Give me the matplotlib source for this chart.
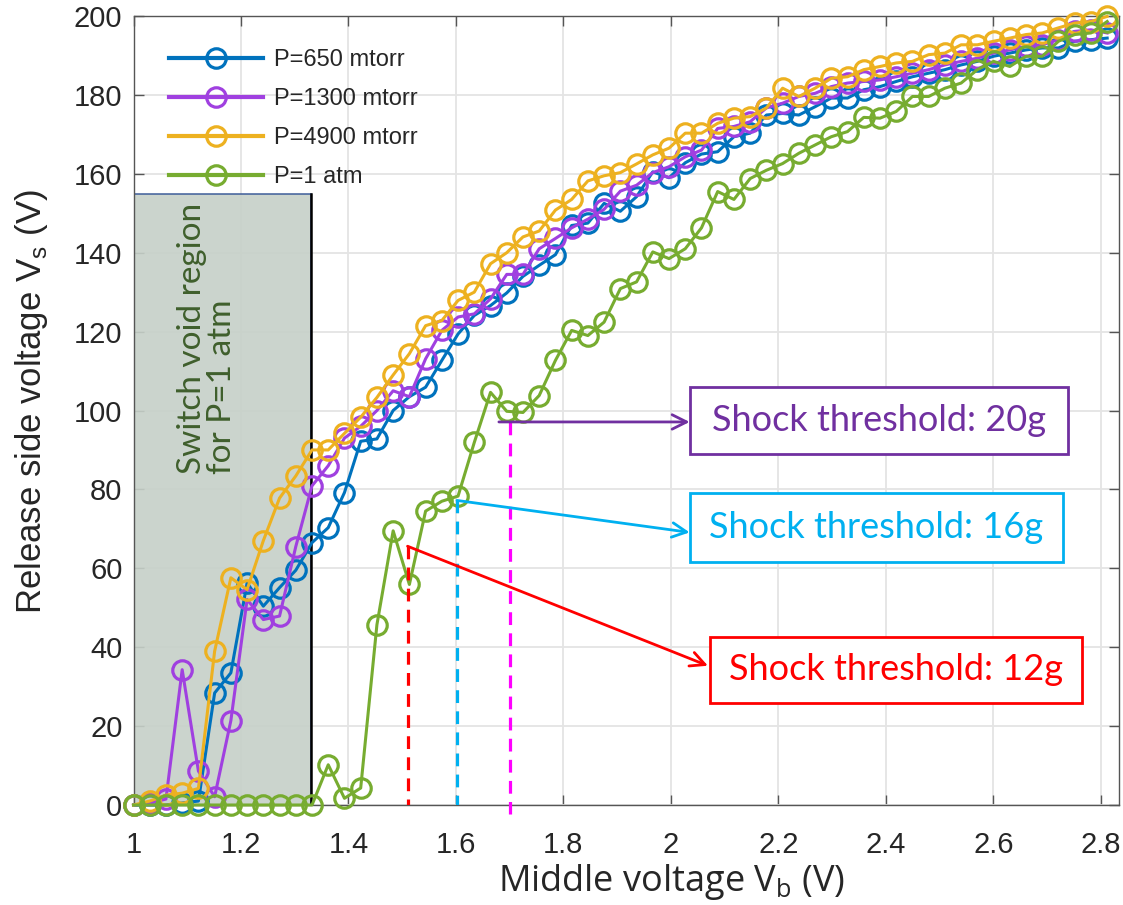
import numpy as np
import matplotlib
matplotlib.use("Agg")
import matplotlib.pyplot as plt
from matplotlib.patches import Rectangle
from matplotlib.ticker import FuncFormatter

# ---- data -------------------------------------------------------------
# middle voltage sweep (V), 61 samples
vb = 1.0 + 0.0302 * np.arange(61)

vs_650 = [0, 0, 0, 0.5, 1, 28.4, 33.5, 56.3, 50.4, 55.1,
          59.5, 66.5, 70.3, 79.2, 92.2, 92.8, 100.0, 103.5, 105.9, 112.7,
          119.4, 124.1, 126.6, 129.8, 134.0, 136.8, 139.5, 146.9, 147.5, 152.5,
          150.5, 154.2, 160.5, 159.0, 162.8, 165.0, 165.6, 169.4, 170.3, 174.9,
          175.3, 174.9, 177.0, 179.2, 179.2, 181.3, 182.1, 183.4, 184.6, 185.5,
          186.4, 187.6, 188.5, 189.8, 190.6, 191.4, 191.9, 191.9, 193.6, 194.0,
          194.4]

vs_1300 = [0, 0.5, 1.5, 34.3, 8.6, 2.1, 21.4, 52.1, 47.0, 47.9,
           65.5, 80.9, 86.0, 93.0, 96.0, 100.0, 105.0, 103.5, 113.1, 120.3,
           123.7, 124.5, 128.3, 134.5, 134.5, 141.0, 143.6, 146.3, 148.5, 151.0,
           155.6, 157.1, 160.3, 161.8, 164.3, 166.0, 171.5, 172.0, 173.2, 176.7,
           177.9, 179.6, 180.4, 182.1, 183.0, 183.4, 183.8, 184.6, 185.5, 186.4,
           187.6, 188.5, 189.3, 190.6, 191.4, 192.3, 192.7, 194.0, 196.1, 196.5,
           195.7]

vs_4900 = [0, 1, 2.5, 3.0, 4.2, 39.0, 57.6, 54.6, 67.0, 77.8,
           83.4, 90.0, 90.0, 94.2, 98.3, 103.3, 109.0, 114.4, 121.5, 122.8,
           127.9, 130.0, 137.2, 140.0, 144.0, 145.5, 150.8, 153.5, 158.2, 159.5,
           160.3, 162.5, 164.8, 166.5, 170.3, 170.3, 172.8, 174.1, 174.5, 176.7,
           181.7, 179.6, 181.7, 184.2, 184.6, 186.4, 187.2, 188.1, 188.5, 190.2,
           190.6, 192.7, 192.7, 193.6, 194.4, 195.3, 195.7, 197.0, 198.2, 198.6,
           199.9]

vs_1atm = [0, 0, 0, 0, 0, 0, 0, 0, 0, 0,
           0, 0, 10.2, 1.7, 4.3, 45.7, 69.5, 55.9, 74.5, 77.0,
           78.3, 91.9, 104.6, 99.8, 99.5, 103.8, 112.7, 120.3, 119.0, 122.4,
           130.9, 132.6, 140.2, 138.5, 141.0, 146.3, 155.5, 153.5, 158.8, 160.9,
           162.6, 165.2, 167.3, 169.4, 170.7, 174.3, 174.1, 175.8, 179.6, 179.6,
           181.7, 183.0, 186.4, 188.5, 187.2, 189.8, 189.8, 193.6, 195.3, 195.7,
           198.6]

series_labels = ["P=650 mtorr", "P=1300 mtorr", "P=4900 mtorr", "P=1 atm"]
series_colors = ["#0072BD", "#A040E0", "#EDB120", "#77AC30"]

# switch-void region for 1 atm
void_x = (1.0, 1.33)
void_top = 154.8

# shock thresholds: label, x on curve, y on curve
thr_labels = ["Shock threshold: 20g", "Shock threshold: 16g", "Shock threshold: 12g"]
thr_x = [1.70, 1.602, 1.51]
thr_y = [97.1, 77.2, 65.6]

xticks = [1.0, 1.2, 1.4, 1.6, 1.8, 2.0, 2.2, 2.4, 2.6, 2.8]
yticks = list(range(0, 201, 20))

# ---- figure -------------------------------------------------------------
W, H = 1123, 905
fig = plt.figure(figsize=(W / 100, H / 100), dpi=100)
ax = fig.add_axes([133.5 / W, (H - 805) / H, (1119 - 133.5) / W, (805 - 16) / H])

tick_font = ["Liberation Sans Narrow", "Liberation Sans", "DejaVu Sans"]
box_font = ["Lato", "DejaVu Sans"]

ax.set_xlim(1.0, 2.834)
ax.set_ylim(0, 200)
ax.set_axisbelow(True)
ax.grid(True, color="#e4e4e4", lw=1.3)

ax.set_xticks(xticks)
ax.set_yticks(yticks)
ax.xaxis.set_major_formatter(FuncFormatter(lambda v, p: f"{v:g}"))
ax.tick_params(axis="both", direction="in", top=True, right=True,
               length=7, width=1, color="#555555", labelsize=21, labelcolor="#262626")
ax.tick_params(axis="x", pad=19)
ax.tick_params(axis="y", pad=8)
for lab in ax.get_xticklabels() + ax.get_yticklabels():
    lab.set_family(tick_font)
for sp in ax.spines.values():
    sp.set_color("#555555")
    sp.set_linewidth(1.0)

# void region
ax.add_patch(Rectangle((void_x[0], 0), void_x[1] - void_x[0], void_top,
                       facecolor="#c6d0c8", edgecolor="#3b5a98", lw=1.2,
                       alpha=0.9, zorder=1))
ax.plot([void_x[1], void_x[1]], [0, void_top], color="black", lw=1.8, zorder=1.1)
ax.text(1.137, 84, "Switch void region\nfor P=1 atm", rotation=90,
        ha="center", va="bottom", multialignment="left",
        fontsize=24, color="#3f5f2c", family=box_font, linespacing=1.0, zorder=1.2)

# curves
for vs, lab, col in zip([vs_650, vs_1300, vs_4900, vs_1atm], series_labels, series_colors):
    ax.plot(vb, vs, "-o", color=col, lw=2.2, ms=14, mfc="none", mew=2.3,
            label=lab, zorder=3, clip_on=False)

# threshold markers
dash = (0, (4, 2.6))
ax.plot([thr_x[0]] * 2, [thr_y[0], -2.2], color="#ff00ff", lw=2.3, ls=dash,
        zorder=4, clip_on=False)
ax.plot([thr_x[1]] * 2, [thr_y[1], 0], color="#00b0f0", lw=2.3, ls=dash, zorder=4)
ax.plot([thr_x[2]] * 2, [thr_y[2], 0], color="#ff0000", lw=2.3, ls=dash, zorder=4)

# annotation arrows and boxes
arrow_starts = [(1.68, thr_y[0]), (thr_x[1], thr_y[1]), (thr_x[2], thr_y[2])]
arrow_ends = [(2.035, 97.1), (2.035, 69.1), (2.069, 35.3)]
arrow_colors = ["#7030a0", "#00b0f0", "#ff0000"]
boxes = [(2.035, 88.9, 0.704, 17.1), (2.035, 61.5, 0.694, 17.5), (2.073, 25.9, 0.693, 16.8)]
for (s, e, c, b, t) in zip(arrow_starts, arrow_ends, arrow_colors, boxes, thr_labels):
    ax.annotate("", xy=e, xytext=s,
                arrowprops=dict(arrowstyle="->", color=c, lw=2.0,
                                mutation_scale=26, shrinkA=0, shrinkB=0),
                zorder=5)
    x0, y0, w, h = b
    ax.add_patch(Rectangle((x0, y0), w, h, facecolor="white", edgecolor=c,
                           lw=2.0, zorder=5))
    ax.text(x0 + w / 2, y0 + h / 2, t, ha="center", va="center",
            fontsize=26, color=c, family=box_font, zorder=6)

# labels
ax.set_xlabel(r"Middle voltage V$_\mathregular{b}$ (V)", fontsize=26,
              family=["Open Sans", "DejaVu Sans"], color="#262626")
ax.xaxis.set_label_coords(0.546, -0.098)
ax.xaxis.label.set_va("center")
ax.set_ylabel(r"Release side voltage V$_\mathregular{s}$ (V)", fontsize=25,
              family=tick_font, color="#262626")
ax.yaxis.set_label_coords(-0.104, 0.511)
ax.yaxis.label.set_va("center")

leg = ax.legend(loc="upper left", bbox_to_anchor=(0.014, 0.985), frameon=False,
                handlelength=4.0, handletextpad=0.45, labelspacing=0.72,
                prop={"family": tick_font, "size": 17})
for t in leg.get_texts():
    t.set_color("#262626")
for h in leg.legend_handles:
    h.set_linewidth(3.0)

fig.savefig("out.png", dpi=100)
